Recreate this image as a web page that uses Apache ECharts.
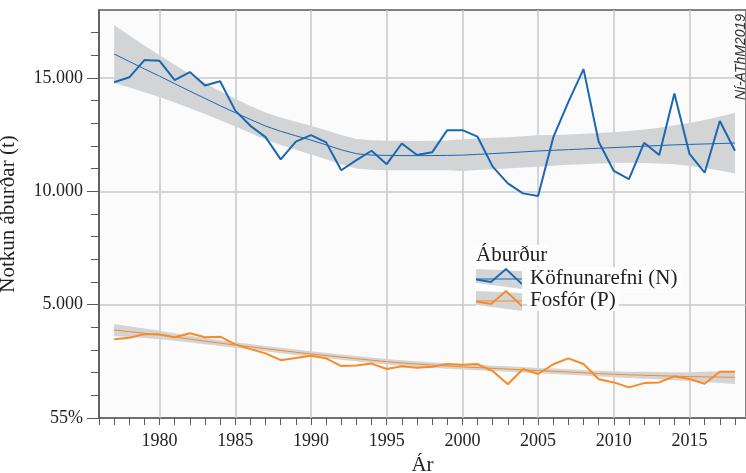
<!DOCTYPE html>
<html>
<head>
<meta charset="utf-8">
<script src="https://cdn.jsdelivr.net/npm/echarts@6/dist/echarts.min.js"></script>
<style>
html,body{margin:0;padding:0;background:#fff;}
#c{width:746px;height:473px;}
</style>
</head>
<body>
<div id="c"></div>
<script>
const years = [1977,1978,1979,1980,1981,1982,1983,1984,1985,1986,1987,1988,1989,1990,1991,1992,1993,1994,1995,1996,1997,1998,1999,2000,2001,2002,2003,2004,2005,2006,2007,2008,2009,2010,2011,2012,2013,2014,2015,2016,2017,2018];

const nRaw = [14810,15030,15790,15760,14910,15260,14670,14860,13560,12890,12390,11410,12190,12480,12160,10930,11380,11790,11200,12110,11600,11720,12700,12700,12410,11090,10350,9910,9790,12380,13950,15390,12190,10900,10540,12140,11600,14320,11650,10820,13100,11790];
const nFit = [16060,15730,15400,15080,14750,14420,14100,13780,13470,13170,12880,12650,12450,12260,12050,11830,11660,11600,11585,11578,11575,11578,11585,11598,11630,11665,11700,11740,11780,11810,11840,11870,11900,11930,11960,11990,12020,12050,12070,12090,12110,12130];
const nUpper = [17340,16880,16430,16000,15580,15170,14790,14420,14080,13770,13480,13260,13070,12890,12690,12480,12310,12250,12235,12228,12225,12228,12245,12300,12330,12360,12390,12430,12470,12490,12510,12540,12570,12610,12660,12730,12810,12910,13020,13150,13300,13470];
const nLower = [14780,14580,14370,14160,13920,13670,13410,13140,12860,12570,12280,12040,11830,11630,11410,11180,11010,10950,10935,10928,10925,10928,10925,10900,10940,10975,11010,11050,11090,11130,11170,11200,11230,11250,11260,11250,11230,11190,11120,11030,10920,10790];

const pRaw = [3470,3540,3700,3690,3560,3740,3560,3590,3250,3040,2850,2550,2650,2750,2630,2290,2320,2400,2160,2280,2220,2260,2380,2350,2380,2070,1490,2160,1940,2370,2630,2380,1710,1570,1350,1540,1570,1840,1720,1510,2040,2040];
const pFit = [3880,3810,3735,3660,3570,3480,3390,3305,3220,3140,3060,2980,2900,2825,2755,2685,2620,2550,2485,2430,2380,2335,2295,2255,2225,2190,2160,2125,2090,2060,2030,1995,1960,1930,1905,1885,1865,1845,1825,1815,1805,1795];
const pUpper = [4150,4050,3945,3845,3735,3630,3530,3435,3345,3260,3180,3100,3020,2945,2875,2805,2740,2670,2605,2550,2500,2455,2415,2375,2345,2310,2280,2245,2210,2180,2150,2115,2085,2060,2045,2035,2025,2020,2020,2040,2065,2095];
const pLower = [3610,3570,3525,3475,3405,3330,3250,3175,3095,3020,2940,2860,2780,2705,2635,2565,2500,2430,2365,2310,2260,2215,2175,2135,2105,2070,2040,2005,1970,1940,1910,1875,1835,1800,1765,1735,1705,1670,1630,1590,1545,1495];

const gridYears = [1980,1985,1990,1995,2000,2005,2010,2015];
const yTickValues = [0,5000,10000,15000];
const nName = 'Köfnunarefni (N)';
const pName = 'Fosfór (P)';
const legendTitle = 'Áburður';

const blue = '#1a68b3';
const orange = '#f68b28';
const bandColor = '#d3d4d6';
const serif = '"Liberation Serif", "DejaVu Serif", serif';

function pairs(arr){ return years.map((y,i)=>[y, arr[i]]); }

function legendIcon(color){
  const svg = '<svg xmlns="http://www.w3.org/2000/svg" width="46" height="22" viewBox="0 0 46 22">' +
    '<rect width="46" height="22" fill="#ffffff"/>' +
    '<polygon points="0,2 46,4 46,22 0,16" fill="' + bandColor + '"/>' +
    '<line x1="0" y1="12" x2="46" y2="12" stroke="' + color + '" stroke-width="1"/>' +
    '<polyline points="0,12.5 15,15 30,2 46,17" fill="none" stroke="' + color + '" stroke-width="2"/>' +
    '</svg>';
  return 'image://data:image/svg+xml;charset=utf-8,' + encodeURIComponent(svg);
}

function bandSeries(id, up, lo){
  return {
    type:'custom', name:id, silent:true, z:2,
    data: years.map((y,i)=>[y, lo[i], up[i]]),
    encode:{x:0, y:[1,2]},
    renderItem:function(params, api){
      if (params.dataIndex !== 0) return null;
      const pts = [];
      for (let i = 0; i < years.length; i++) pts.push(api.coord([years[i], up[i]]));
      for (let i = years.length - 1; i >= 0; i--) pts.push(api.coord([years[i], lo[i]]));
      return {type:'polygon', shape:{points:pts}, style:{fill:bandColor}, silent:true};
    }
  };
}

const chart = echarts.init(document.getElementById('c'), null, {renderer:'canvas'});
chart.setOption({
  animation:false,
  backgroundColor:'#ffffff',
  grid:{left:99, right:0, top:10, bottom:55, show:true, containLabel:false, outerBoundsMode:'none',
        backgroundColor:'#fbfbfb', borderColor:'#5a5a5a', borderWidth:1.5},
  xAxis:{
    type:'value', min:1976, max:2018.73, interval:1,
    name:'Ár', nameLocation:'middle', nameGap:33,
    nameTextStyle:{fontFamily:serif, fontSize:21, color:'#222'},
    axisLine:{show:true, lineStyle:{color:'#5a5a5a', width:1.5}},
    axisTick:{show:true, length:7, lineStyle:{color:'#5a5a5a', width:1}},
    axisLabel:{margin:14, fontFamily:serif, fontSize:18, color:'#222',
      formatter:function(v){ return gridYears.indexOf(v) >= 0 ? String(v) : ''; }},
    splitLine:{show:false}
  },
  yAxis:{
    type:'value', min:0, max:18000, interval:5000,
    name:'Notkun áburðar (t)', nameLocation:'middle', nameGap:80, nameRotate:90,
    nameTextStyle:{fontFamily:serif, fontSize:21, color:'#222'},
    axisLine:{show:true, lineStyle:{color:'#5a5a5a', width:1.5}},
    axisTick:{show:true, length:12, customValues:yTickValues, lineStyle:{color:'#5a5a5a', width:1}},
    minorTick:{show:true, splitNumber:5, length:8, lineStyle:{color:'#5a5a5a', width:1}},
    axisLabel:{margin:16, fontFamily:serif, fontSize:18, color:'#222', customValues:yTickValues,
      formatter:function(v){ return v === 0 ? '55%' : v.toLocaleString('de-DE'); }},
    splitLine:{show:true, lineStyle:{color:'#c8c8c8', width:1.5}}
  },
  legend:{
    orient:'vertical', left:476, top:267, padding:0, itemGap:0,
    itemWidth:46, itemHeight:22, selectedMode:false,
    textStyle:{fontFamily:serif, fontSize:21, color:'#222', backgroundColor:'#fff', padding:[0,3,0,3], lineHeight:22},
    data:[{name:nName, icon:legendIcon(blue)}, {name:pName, icon:legendIcon(orange)}]
  },
  graphic:[
    {type:'text', left:473, top:245, z:100,
     style:{text:legendTitle, font:'21px ' + serif, fill:'#222', backgroundColor:'#fff', padding:[0,3,0,3]}},
    {type:'text', x:741, y:57, rotation:Math.PI/2, z:100,
     style:{text:'Ní-AThM2019', font:'italic 14px "Liberation Sans", Arial, sans-serif', fill:'#333', align:'center', verticalAlign:'middle'}}
  ],
  series:[
    {type:'line', name:'grid', data:[], silent:true, z:1,
     markLine:{silent:true, z:1, symbol:['none','none'], label:{show:false}, animation:false,
       lineStyle:{color:'#c8c8c8', width:1.5, type:'solid'},
       emphasis:{disabled:true},
       data:gridYears.map(function(y){ return {xAxis:y}; })}},
    bandSeries('nb', nUpper, nLower),
    bandSeries('pb', pUpper, pLower),
    {type:'line', name:'nFit', data:pairs(nFit), symbol:'none', silent:true, lineStyle:{color:blue, width:1}, z:3},
    {type:'line', name:'pFit', data:pairs(pFit), symbol:'none', silent:true, lineStyle:{color:orange, width:1}, z:3},
    {type:'line', name:nName, data:pairs(nRaw), symbol:'none', itemStyle:{color:blue}, lineStyle:{color:blue, width:2}, z:4},
    {type:'line', name:pName, data:pairs(pRaw), symbol:'none', itemStyle:{color:orange}, lineStyle:{color:orange, width:2}, z:4}
  ]
});
</script>
</body>
</html>
